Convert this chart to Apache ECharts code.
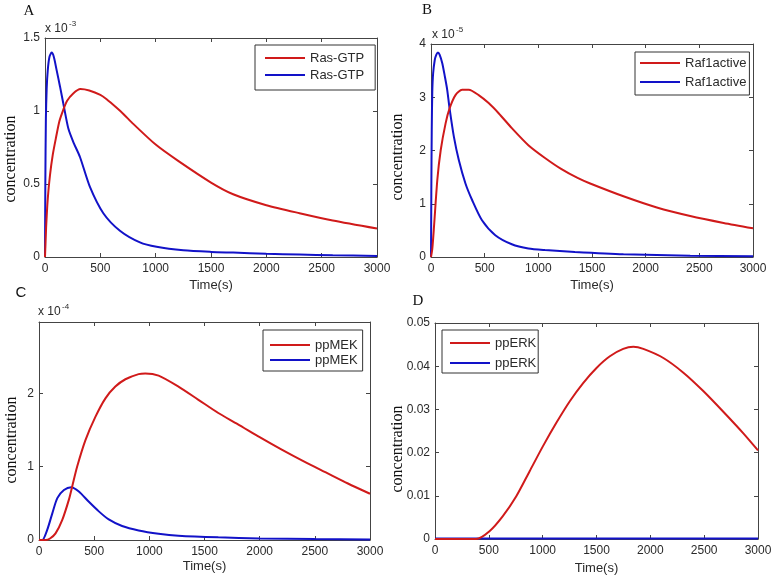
<!DOCTYPE html>
<html><head><meta charset="utf-8">
<script src="https://cdn.jsdelivr.net/npm/echarts@6.0.0/dist/echarts.min.js"></script>
<style>html,body{margin:0;padding:0;background:#fff}#c{width:776px;height:582px}</style>
</head><body><div id="c"></div>
<script>
// ---------- DATA (in displayed axis units) ----------
// Panel A (x 10^-3)
const timeA_red  = [0,10,25,45,70,100,130,166,200,255,320,400,500,557,650,708,800,1000,1200,1500,1700,2000,2300,2600,3000];
const valA_red   = [0,0.2,0.4,0.56,0.70,0.82,0.93,1.01,1.07,1.12,1.15,1.14,1.11,1.08,1.02,0.98,0.91,0.77,0.66,0.51,0.43,0.355,0.30,0.25,0.195];
const timeA_blue = [0,3,8,15,25,40,60,80,105,135,166,211,260,316,406,527,677,858,1008,1250,1500,1700,2000,2300,2600,3000];
const valA_blue  = [0,0.5,0.95,1.15,1.28,1.37,1.40,1.37,1.28,1.17,1.05,0.88,0.78,0.685,0.48,0.30,0.18,0.10,0.07,0.046,0.035,0.03,0.022,0.017,0.012,0.007];
// Panel B (x 10^-5)
const timeB_red  = [0,12,28,59,90,136,173,228,290,352,444,537,630,753,907,1062,1216,1370,1483,1793,2104,2415,2726,3000];
const valB_red   = [0,0.15,0.57,1.45,2.0,2.51,2.79,3.04,3.14,3.14,3.04,2.89,2.70,2.42,2.10,1.86,1.65,1.48,1.38,1.14,0.93,0.77,0.64,0.54];
const timeB_blue = [0,3,7,12,20,35,50,65,80,105,130,151,173,213,259,321,383,475,599,753,907,1062,1340,1793,2415,3000];
const valB_blue  = [0,1.2,2.4,3.1,3.45,3.7,3.8,3.84,3.8,3.64,3.38,3.14,2.79,2.26,1.82,1.38,1.07,0.69,0.41,0.24,0.16,0.13,0.094,0.05,0.025,0.013];
// Panel C (x 10^-4)
const timeC_red  = [0,60,100,150,210,271,301,346,421,512,602,692,783,903,963,1084,1264,1445,1625,1800,2000,2200,2400,2600,2800,3000];
const valC_red   = [0,0,0.02,0.09,0.27,0.55,0.73,1.0,1.36,1.68,1.93,2.09,2.19,2.26,2.27,2.24,2.09,1.91,1.73,1.58,1.40,1.23,1.07,0.92,0.77,0.63];
const timeC_blue = [0,30,75,120,166,226,292,361,452,542,632,753,903,1084,1264,1625,2000,2500,3000];
const valC_blue  = [0,0,0.14,0.36,0.57,0.68,0.72,0.66,0.52,0.39,0.28,0.19,0.13,0.086,0.059,0.036,0.022,0.012,0.007];
// Panel D
const timeD_red  = [0,382,506,630,755,879,1003,1127,1252,1376,1500,1624,1748,1842,1935,2121,2307,2494,2680,2866,3000];
const valD_red   = [0,0,0.0018,0.0053,0.0099,0.0157,0.0215,0.0269,0.0319,0.0361,0.0396,0.0423,0.0440,0.0445,0.0440,0.0419,0.0385,0.0342,0.0294,0.0244,0.0205];
const timeD_blue = [0,500,1000,1500,2000,2500,3000];
const valD_blue  = [0.0001,0.0001,0.0001,0.0001,0.0001,0.0001,0.0001];

const legendA = ['Ras-GTP','Ras-GTP'];
const legendB = ['Raf1active','Raf1active'];
const legendC = ['ppMEK','ppMEK'];
const legendD = ['ppERK','ppERK'];
const panelLetters = ['A','B','C','D'];
const multipliers = ['-3','-5','-4',null];
const xTitle = 'Time(s)';
const yTitle = 'concentration';
const xMin = 0, xMax = 3000, xStep = 500;
const yMaxes = [1.5, 4, 2.97, 0.05];
const ySteps = [0.5, 1, 1, 0.01];

// ---------- LAYOUT ----------
const RED = '#d01a1a', BLUE = '#1212c8';
const AXIS = '#444', TXT = '#2a2a2a';
const SANS = "'Liberation Sans', Arial, sans-serif";
const SERIF = "'Liberation Serif', 'Times New Roman', serif";
const grids = [
  {left:45, top:38, width:332, height:219},
  {left:431, top:44, width:322, height:213},
  {left:39, top:322, width:331, height:218},
  {left:435, top:323, width:323, height:216}
];
const nameGaps = [22, 22, 20, 23];
const legendPos = [
  {left:255, top:45, padding:[6,11,8,10], itemGap:3},
  {left:635, top:52, padding:[4,3,6,5], itemGap:5},
  {left:263, top:330, padding:[8,5,4,7], itemGap:1},
  {left:442, top:330, padding:[6,2,3,8], itemGap:6}
];
const legendLabels = [legendA, legendB, legendC, legendD];
const dataSets = [
  [[timeA_red,valA_red],[timeA_blue,valA_blue]],
  [[timeB_red,valB_red],[timeB_blue,valB_blue]],
  [[timeC_red,valC_red],[timeC_blue,valC_blue]],
  [[timeD_red,valD_red],[timeD_blue,valD_blue]]
];

const option = {
  animation:false, backgroundColor:'#fff',
  grid:[], xAxis:[], yAxis:[], series:[], legend:[], graphic:[]
};
const axisLineStyle = {show:true, onZero:false, lineStyle:{color:AXIS, width:1}};
const tickStyle = {show:true, inside:true, length:4, lineStyle:{color:AXIS}};

grids.forEach((g,i)=>{
  option.grid.push(Object.assign({show:false}, g));
  const fmtY = v => {
    const s = ySteps[i];
    const k = Math.round(v/s);
    if (Math.abs(v - k*s) > s*1e-6) return '';
    return String(+(k*s).toFixed(4));
  };
  // main bottom / left axes
  option.xAxis.push({type:'value', gridIndex:i, min:xMin, max:xMax, interval:xStep, position:'bottom',
    axisLine:axisLineStyle, axisTick:tickStyle, splitLine:{show:false},
    axisLabel:{color:TXT, fontSize:12, fontFamily:SANS, margin:6, formatter: v => String(v)},
    name:xTitle, nameLocation:'middle', nameGap:nameGaps[i],
    nameTextStyle:{color:TXT, fontSize:13, fontFamily:SANS}});
  option.yAxis.push({type:'value', gridIndex:i, min:0, max:yMaxes[i], interval:ySteps[i], position:'left',
    axisLine:axisLineStyle, axisTick:tickStyle, splitLine:{show:false},
    axisLabel:{color:TXT, fontSize:12, fontFamily:SANS, margin:5, formatter:fmtY}});
  // box top / right axes
  option.xAxis.push({type:'value', gridIndex:i, min:xMin, max:xMax, interval:xStep, position:'top',
    axisLine:axisLineStyle, axisTick:tickStyle, axisLabel:{show:false}, splitLine:{show:false}});
  option.yAxis.push({type:'value', gridIndex:i, min:0, max:yMaxes[i], interval:ySteps[i], position:'right',
    axisLine:axisLineStyle, axisTick:tickStyle, axisLabel:{show:false}, splitLine:{show:false}});

  const names = [];
  dataSets[i].forEach((ds,j)=>{
    const nm = legendLabels[i][j] + ' '.repeat(j+1) + '\u200b'.repeat(i);
    names.push(nm);
    option.series.push({type:'line', name:nm, xAxisIndex:2*i, yAxisIndex:2*i,
      data: ds[0].map((t,k)=>[t, ds[1][k]]), showSymbol:false, symbol:'none', smooth:0.25,
      lineStyle:{color: j===0?RED:BLUE, width:2}, itemStyle:{color: j===0?RED:BLUE}, clip:true, z: j===0?3:2});
  });
  const lp = legendPos[i];
  option.legend.push({left:lp.left, top:lp.top, orient:'vertical', data:names, padding:lp.padding, itemGap:lp.itemGap,
    icon:'rect', itemWidth:40, itemHeight:2, borderColor:'#333', borderWidth:1, backgroundColor:'#fff',
    selectedMode:false, formatter: n => n.replace(/[\s\u200b]+$/,''),
    textStyle:{fontSize:13, color:TXT, fontFamily:SANS, lineHeight:14}});
});

// panel letters
const letterPos = [[29,11,SERIF],[427,10,SERIF],[21,293,SANS],[418,301,SERIF]];
panelLetters.forEach((L,i)=>{
  option.graphic.push({type:'text', x:letterPos[i][0], y:letterPos[i][1],
    style:{text:L, fill:'#111', font:'15px '+letterPos[i][2], align:'center', verticalAlign:'middle'}});
});
// multipliers
const multPos = [[45,29],[432,35],[38,312]];
multipliers.forEach((m,i)=>{
  if (!m) return;
  option.graphic.push({type:'text', x:multPos[i][0], y:multPos[i][1],
    style:{text:'x 10', fill:TXT, font:'12px '+SANS, align:'left', verticalAlign:'middle'}});
  option.graphic.push({type:'text', x:multPos[i][0]+24, y:multPos[i][1]-5,
    style:{text:m, fill:TXT, font:'8px '+SANS, align:'left', verticalAlign:'middle'}});
});
// y titles
const yTitlePos = [[11,159],[398,157],[12,440],[398,449]];
yTitlePos.forEach(p=>{
  option.graphic.push({type:'text', x:p[0], y:p[1], rotation:Math.PI/2,
    style:{text:yTitle, fill:'#111', font:'16px '+SERIF, align:'center', verticalAlign:'middle'}});
});

const chart = echarts.init(document.getElementById('c'), null, {renderer:'canvas'});
chart.setOption(option);
</script>
</body></html>
